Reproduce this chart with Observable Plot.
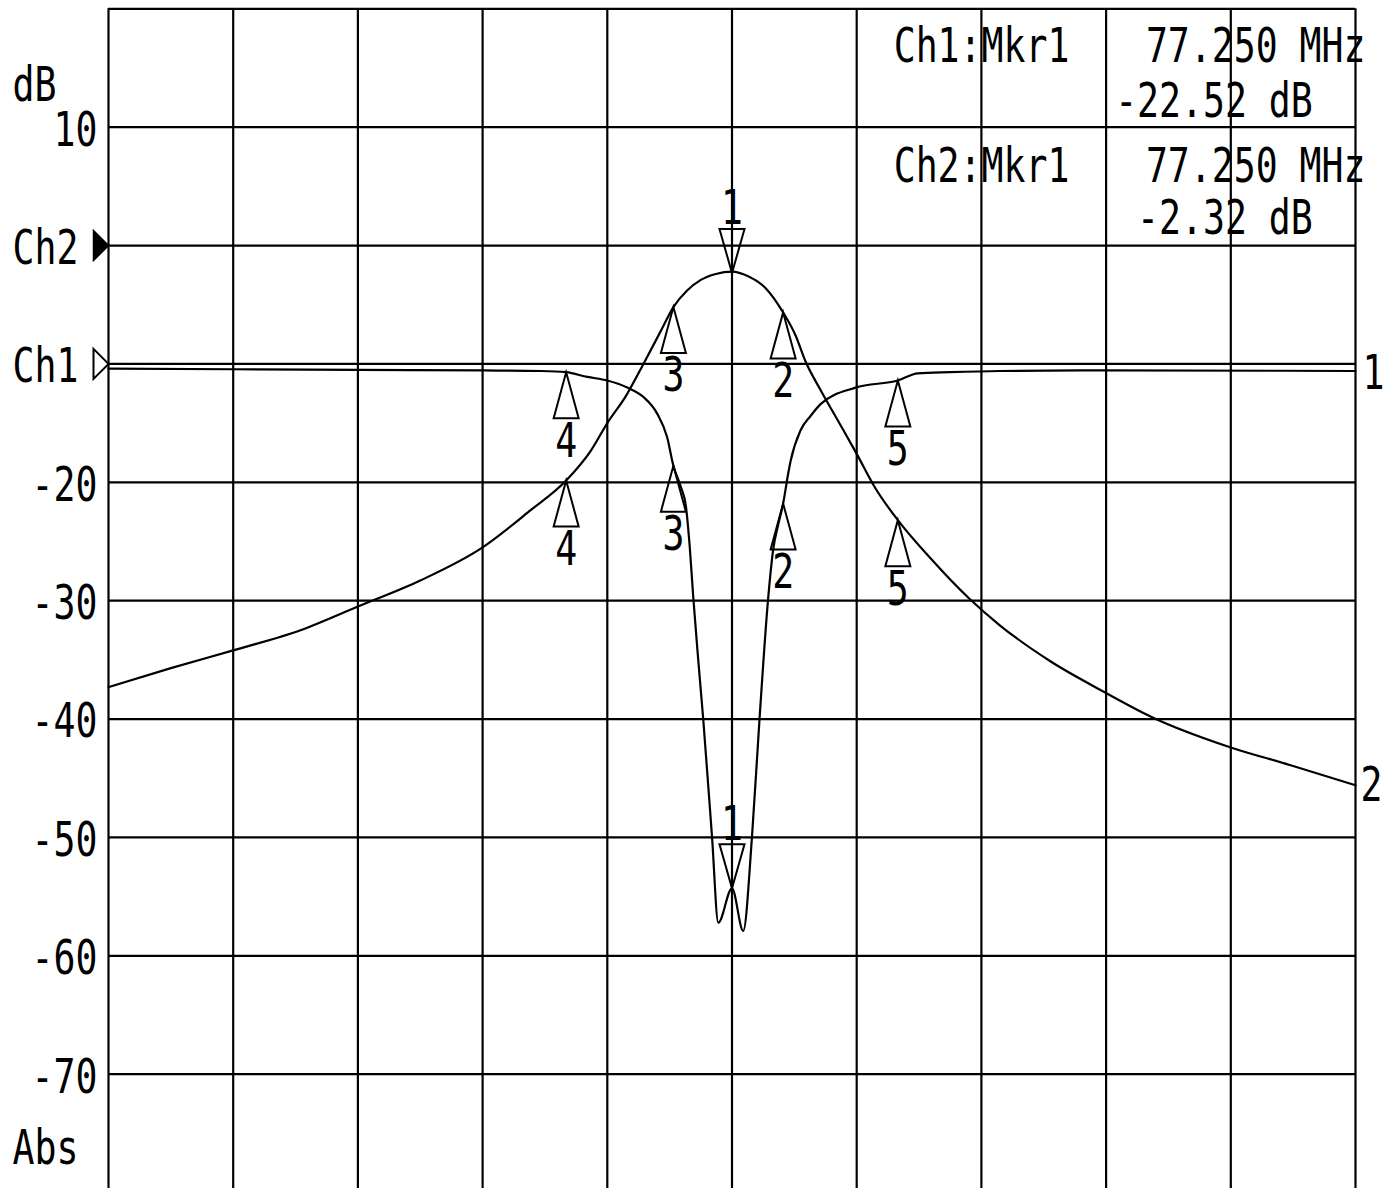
<!DOCTYPE html>
<html><head><meta charset="utf-8">
<script src="https://cdn.jsdelivr.net/npm/d3@7"></script>
<script src="https://cdn.jsdelivr.net/npm/@observablehq/plot@0.6"></script>
<style>html,body{margin:0;padding:0;background:#fff}#chart svg{display:block}</style>
</head><body><div id="chart"></div>
<script>
// ---- data ----
// Channel 2 (band-pass response), frequency in MHz, level in dB
const ch2Freq = [72.25, 72.75, 73.25, 73.79, 74.25, 74.75, 75.25, 75.63, 75.92, 76.12, 76.25, 76.40, 76.54, 76.68, 76.78, 76.89, 77.00, 77.12, 77.25, 77.38, 77.52, 77.66, 77.76, 77.84, 77.96, 78.10, 78.25, 78.40, 78.58, 78.84, 79.15, 79.40, 79.80, 80.25, 80.61, 81.25, 81.73, 82.25];
const ch2dB   = [-37.3, -35.7, -34.2, -32.5, -30.5, -28.3, -25.5, -22.4, -19.85, -17.3, -15.0, -12.7, -10.0, -7.2, -5.2, -3.8, -2.9, -2.4, -2.2, -2.6, -3.6, -5.65, -7.6, -9.8, -12.2, -14.8, -17.6, -20.5, -23.2, -26.4, -29.8, -32.1, -35.1, -37.8, -39.8, -42.4, -43.9, -45.6];
// Channel 1 (notch response)
const ch1Freq = [72.25, 74.25, 75.25, 75.72, 75.92, 76.09, 76.25, 76.41, 76.54, 76.65, 76.73, 76.78, 76.84, 76.88, 76.91, 76.94, 76.98, 77.02, 77.09, 77.14, 77.25, 77.34, 77.41, 77.47, 77.54, 77.58, 77.62, 77.66, 77.70, 77.72, 77.80, 77.88, 77.96, 78.24, 78.58, 78.74, 79.00, 79.40, 80.25, 82.25];
const ch1dB   = [-10.4, -10.5, -10.55, -10.6, -10.7, -11.1, -11.4, -12.0, -12.8, -14.2, -16.2, -18.6, -20.4, -22.0, -25.3, -29.8, -35.1, -40.1, -50.0, -57.2, -54.3, -57.9, -50.0, -40.1, -29.8, -25.7, -23.6, -21.8, -19.3, -18.2, -15.6, -14.4, -13.4, -12.0, -11.4, -10.8, -10.7, -10.6, -10.55, -10.6];
// Markers (shared frequencies)
const markerNo    = ["1", "2", "3", "4", "5"];
const markerFreq  = [77.25, 77.66, 76.78, 75.92, 78.58];
const ch1MarkerDB = [-54.3, -21.8, -18.6, -10.7, -11.4];
const ch2MarkerDB = [-2.32, -5.65, -5.2, -19.85, -23.2];
// Grid & tick labels
const gridDB   = [20, 10, 0, -10, -20, -30, -40, -50, -60, -70];
const gridFreq = [72.25, 73.25, 74.25, 75.25, 76.25, 77.25, 78.25, 79.25, 80.25, 81.25, 82.25];
const tickDB     = [10, -20, -30, -40, -50, -60, -70];
const tickLabels = ["10", "-20", "-30", "-40", "-50", "-60", "-70"];
const refNames = ["Ch2", "Ch1"];
const refDB    = [0, -10];
// Marker readout
const readName  = ["Ch1:Mkr1", "Ch2:Mkr1"];
const readFreq  = ["77.250 MHz", "77.250 MHz"];
const readLevel = ["-22.52 dB", "-2.32 dB"];

// ---- build tables ----
const ch2 = ch2Freq.map((f, i) => ({f, db: ch2dB[i]}));
const ch1 = ch1Freq.map((f, i) => ({f, db: ch1dB[i]}));
const markers = markerNo.map((n, i) => ({n, f: markerFreq[i], ch1: ch1MarkerDB[i], ch2: ch2MarkerDB[i]}));
const active = markers.filter(m => m.n === "1");
const others = markers.filter(m => m.n !== "1");

// custom symbols (tip of marker at the data point)
const upTri = {draw(c) { c.moveTo(0, 0); c.lineTo(12.5, 46); c.lineTo(-12.5, 46); c.closePath(); }};
const downTri = {draw(c) { c.moveTo(0, 0); c.lineTo(12.5, -44); c.lineTo(-12.5, -44); c.closePath(); }};
const refTri = {draw(c) { c.moveTo(0, 0); c.lineTo(-15, -15); c.lineTo(-15, 15); c.closePath(); }};

const F = "DejaVu Sans Mono";
const FS = 48;
const txt = (data, o) => Plot.text(data, {fontFamily: F, fontSize: FS, fill: "black", ...o});

const chart = Plot.plot({
  width: 1392,
  height: 1188,
  marginLeft: 108,
  marginRight: 37,
  marginTop: 8.3,
  marginBottom: 0,
  x: {domain: [72.25, 82.25], axis: null},
  y: {domain: [-79.66, 20], axis: null},
  style: {background: "white", overflow: "visible", fontFamily: F},
  marks: [
    Plot.ruleY(gridDB, {stroke: "black", strokeWidth: 2.2}),
    Plot.ruleX(gridFreq, {stroke: "black", strokeWidth: 2.2}),
    Plot.line(ch2, {x: "f", y: "db", stroke: "black", strokeWidth: 2.2, curve: "monotone-x"}),
    Plot.line(ch1, {x: "f", y: "db", stroke: "black", strokeWidth: 2.2, curve: "monotone-x"}),
    // markers
    Plot.dot(others, {x: "f", y: "ch2", symbol: upTri, stroke: "black", strokeWidth: 2, fill: "none"}),
    Plot.dot(others, {x: "f", y: "ch1", symbol: upTri, stroke: "black", strokeWidth: 2, fill: "none"}),
    Plot.dot(active, {x: "f", y: "ch2", symbol: downTri, stroke: "black", strokeWidth: 2, fill: "none"}),
    Plot.dot(active, {x: "f", y: "ch1", symbol: downTri, stroke: "black", strokeWidth: 2, fill: "none"}),
    txt(others, {x: "f", y: "ch2", text: "n", dy: 69}),
    txt(others, {x: "f", y: "ch1", text: "n", dy: 69}),
    txt(active, {x: "f", y: "ch2", text: "n", dy: -64}),
    txt(active, {x: "f", y: "ch1", text: "n", dy: -64}),
    // left axis labels
    txt(tickDB, {x: 72.25, y: d => d, text: (d, i) => tickLabels[i], textAnchor: "end", dx: -11, dy: 3}),
    txt(["dB"], {x: 72.25, y: 13.5, text: d => d, textAnchor: "start", dx: -96}),
    txt(["Abs"], {x: 72.25, y: -76.3, text: d => d, textAnchor: "start", dx: -96}),
    txt(refNames, {x: 72.25, y: (d, i) => refDB[i], text: d => d, textAnchor: "start", dx: -96, dy: 3}),
    Plot.dot([refDB[0]], {x: 72.25, y: d => d, symbol: refTri, fill: "black", stroke: "black", strokeWidth: 1.5}),
    Plot.dot([refDB[1]], {x: 72.25, y: d => d, symbol: refTri, fill: "white", stroke: "black", strokeWidth: 2}),
    // trace labels at right edge
    txt(["1"], {x: 82.25, y: ch1dB[ch1dB.length - 1], text: d => d, textAnchor: "start", dx: 7, dy: 3}),
    txt(["2"], {x: 82.25, y: ch2dB[ch2dB.length - 1], text: d => d, textAnchor: "start", dx: 5}),
    // marker readout
    txt(readName, {x: 78.25, y: (d, i) => [16.8, 6.7][i], text: d => d, textAnchor: "start", dx: 37}),
    txt(readFreq, {x: 82.25, y: (d, i) => [16.8, 6.7][i], text: d => d, textAnchor: "end", dx: 10}),
    txt(readLevel, {x: 81.25, y: (d, i) => [12.2, 2.3][i], text: d => d, textAnchor: "end", dx: 82})
  ]
});

// narrow the monospace glyphs to the plotter's tall, thin lettering
for (const t of chart.querySelectorAll("text")) {
  const tr = t.getAttribute("transform") || "";
  t.setAttribute("transform", tr + " scale(0.76,1)");
}
document.getElementById("chart").appendChild(chart);
</script>
</body></html>
